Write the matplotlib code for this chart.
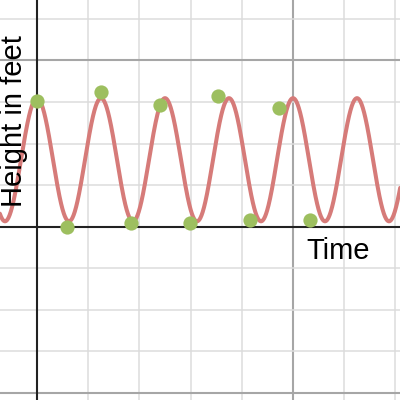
import numpy as np
import matplotlib
matplotlib.use("Agg")
import matplotlib.pyplot as plt

# Data
t_points = [0.0, 0.59, 1.25, 1.84, 2.40, 2.99, 3.535, 4.16, 4.73, 5.33]
h_points = [15.1, 0.0, 16.2, 0.45, 14.6, 0.5, 15.7, 0.75, 14.3, 0.75]

# Model curve parameters (cosine fit drawn in the graph)
amplitude = 7.4
midline = 8.05
period = 1.25

x_label = "Time"
y_label = "Height in feet"

fig = plt.figure(figsize=(4, 4), dpi=100)
ax = fig.add_axes([0, 0, 1, 1])
ax.set_xlim(-0.7227, 7.0898)
ax.set_ylim(-20.83, 27.25)

# grid
for xv in np.arange(-5, 10, 1):
    major = (xv % 5 == 0)
    if xv == 0:
        continue
    ax.axvline(xv, color="#a6a6a6" if major else "#dcdcdc",
               lw=1.5 if major else 1.1, zorder=0)
for yv in np.arange(-40, 45, 5):
    major = (yv % 20 == 0)
    if yv == 0:
        continue
    ax.axhline(yv, color="#a6a6a6" if major else "#dcdcdc",
               lw=1.5 if major else 1.1, zorder=0)
ax.axvline(0, color="#222222", lw=1.5, zorder=1)
ax.axhline(0, color="#222222", lw=1.5, zorder=1)

t = np.linspace(-0.8, 7.2, 1500)
ax.plot(t, amplitude * np.cos(2 * np.pi * t / period) + midline,
        color="#d67b79", lw=2.9, zorder=2, solid_capstyle="round")
ax.scatter(t_points, h_points, s=105, color="#9dbf5f", zorder=3, linewidths=0)

for s in ax.spines.values():
    s.set_visible(False)
ax.set_xticks([])
ax.set_yticks([])

ax.text(306 / 400, 1 - 259.3 / 400, x_label, transform=ax.transAxes,
        ha="left", va="baseline", fontsize=21, family="Liberation Sans",
        color="black", zorder=4)
ax.text(21.7 / 400, 1 - 207 / 400, y_label, transform=ax.transAxes,
        ha="left", va="baseline", rotation=90, rotation_mode="anchor",
        fontsize=21, family="Liberation Sans", color="black", zorder=4)

fig.savefig("out.png", dpi=100)
